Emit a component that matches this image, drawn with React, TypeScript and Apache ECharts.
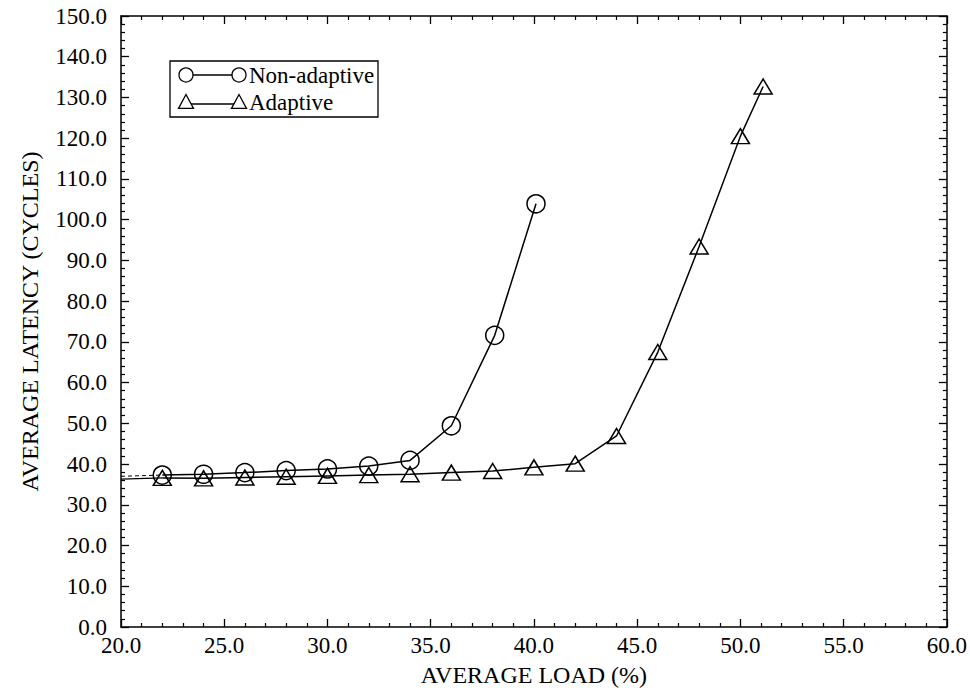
import React, { useEffect, useRef } from "react";
import * as echarts from "echarts";

// ---- data ----
const nonAdaptiveLoad = [22, 24, 26, 28, 30, 32, 34, 36, 38.1, 40.1];
const nonAdaptiveLatency = [37.3, 37.5, 37.9, 38.4, 38.8, 39.5, 40.9, 49.4, 71.6, 103.9];

const adaptiveLoad = [22, 24, 26, 28, 30, 32, 34, 36, 38, 40, 42, 44, 46, 48, 50, 51.1];
const adaptiveLatency = [36.6, 36.5, 36.7, 36.9, 37.1, 37.3, 37.5, 37.9, 38.3, 39.2, 40.1, 46.9, 67.5, 93.4, 120.5, 132.7];

// short lead-in segments from the y axis to the first points
const nonAdaptiveLeadLoad = [20, 22];
const nonAdaptiveLeadLatency = [37.0, 37.3];
const adaptiveLeadLoad = [20, 22];
const adaptiveLeadLatency = [36.3, 36.6];

const legendNames = ["Non-adaptive", "Adaptive"];
const xTitle = "AVERAGE LOAD (%)";
const yTitle = "AVERAGE LATENCY (CYCLES)";

const FONT = "'Liberation Serif', 'Times New Roman', serif";

const zip = (xs: number[], ys: number[]) => xs.map((x, i) => [x, ys[i]]);

export default function App() {
  const ref = useRef<HTMLDivElement>(null);
  useEffect(() => {
    if (!ref.current) return;
    const chart = echarts.init(ref.current, undefined, { renderer: "svg" });

    const axisCommon = {
      axisLine: { show: true, onZero: false, lineStyle: { color: "#000", width: 1.5 } },
      axisTick: { show: true, inside: true, length: 8, lineStyle: { color: "#000", width: 1.3 } },
      minorTick: { show: true, splitNumber: 5, length: 4, lineStyle: { color: "#000", width: 1.2 } },
      splitLine: { show: false },
    };

    const markerStyle = { color: "rgba(0,0,0,0)", borderColor: "#000", borderWidth: 1.5 };

    const tri = (cx: number, cy: number, s: number) => [
      [cx, cy - s],
      [cx - s, cy + s * 0.85],
      [cx + s, cy + s * 0.85],
    ];

    const lx = 170, ly = 61, lw = 208, lh = 56;
    const s1x = 186, s2x = 239, r1y = 75, r2y = 102, tx = 249;

    chart.setOption({
      animation: false,
      backgroundColor: "#fff",
      textStyle: { fontFamily: FONT, color: "#000" },
      grid: { left: 121, right: 17, top: 16, bottom: 62, containLabel: false },
      xAxis: [
        {
          type: "value",
          min: 20,
          max: 60,
          interval: 5,
          position: "bottom",
          ...axisCommon,
          axisLabel: {
            show: true,
            color: "#000",
            fontFamily: FONT,
            fontSize: 23,
            margin: 7,
            formatter: (v: number) => v.toFixed(1),
          },
          name: xTitle,
          nameLocation: "middle",
          nameGap: 36,
          nameTextStyle: { color: "#000", fontFamily: FONT, fontSize: 24 },
        },
        {
          type: "value",
          min: 20,
          max: 60,
          interval: 5,
          position: "top",
          ...axisCommon,
          axisLabel: { show: false },
        },
      ],
      yAxis: [
        {
          type: "value",
          min: 0,
          max: 150,
          interval: 10,
          position: "left",
          ...axisCommon,
          axisLabel: {
            show: true,
            color: "#000",
            fontFamily: FONT,
            fontSize: 23,
            margin: 14,
            formatter: (v: number) => v.toFixed(1),
          },
          name: yTitle,
          nameLocation: "middle",
          nameGap: 79,
          nameTextStyle: { color: "#000", fontFamily: FONT, fontSize: 24 },
        },
        {
          type: "value",
          min: 0,
          max: 150,
          interval: 10,
          position: "right",
          ...axisCommon,
          axisLabel: { show: false },
        },
      ],
      series: [
        {
          name: "nonAdaptiveLead",
          type: "line",
          data: zip(nonAdaptiveLeadLoad, nonAdaptiveLeadLatency),
          showSymbol: false,
          symbol: "none",
          lineStyle: { color: "#000", width: 1, type: [4, 3] },
          z: 1,
        },
        {
          name: "adaptiveLead",
          type: "line",
          data: zip(adaptiveLeadLoad, adaptiveLeadLatency),
          showSymbol: false,
          symbol: "none",
          lineStyle: { color: "#000", width: 1.3 },
          z: 1,
        },
        {
          name: legendNames[0],
          type: "line",
          data: zip(nonAdaptiveLoad, nonAdaptiveLatency),
          symbol: "circle",
          symbolSize: 18,
          itemStyle: markerStyle,
          lineStyle: { color: "#000", width: 1.5 },
          z: 3,
        },
        {
          name: legendNames[1],
          type: "line",
          data: zip(adaptiveLoad, adaptiveLatency),
          symbol: "triangle",
          symbolSize: [18, 15],
          itemStyle: markerStyle,
          lineStyle: { color: "#000", width: 1.5 },
          z: 3,
        },
      ],
      graphic: [
        {
          type: "group",
          children: [
            {
              type: "rect",
              shape: { x: lx, y: ly, width: lw, height: lh },
              style: { fill: "#fff", stroke: "#000", lineWidth: 1.3 },
            },
            {
              type: "line",
              shape: { x1: s1x, y1: r1y, x2: s2x, y2: r1y },
              style: { stroke: "#000", lineWidth: 1.3 },
            },
            { type: "circle", shape: { cx: s1x, cy: r1y, r: 7 }, style: { fill: "#fff", stroke: "#000", lineWidth: 1.3 } },
            { type: "circle", shape: { cx: s2x, cy: r1y, r: 7 }, style: { fill: "#fff", stroke: "#000", lineWidth: 1.3 } },
            {
              type: "text",
              x: tx,
              y: r1y,
              style: { text: legendNames[0], font: `23px ${FONT}`, fill: "#000", verticalAlign: "middle", align: "left" },
            },
            {
              type: "line",
              shape: { x1: s1x, y1: r2y + 2, x2: s2x, y2: r2y + 2 },
              style: { stroke: "#000", lineWidth: 1.3 },
            },
            { type: "polygon", shape: { points: tri(s1x, r2y, 7.5) }, style: { fill: "#fff", stroke: "#000", lineWidth: 1.3 } },
            { type: "polygon", shape: { points: tri(s2x, r2y, 7.5) }, style: { fill: "#fff", stroke: "#000", lineWidth: 1.3 } },
            {
              type: "text",
              x: tx,
              y: r2y,
              style: { text: legendNames[1], font: `23px ${FONT}`, fill: "#000", verticalAlign: "middle", align: "left" },
            },
          ],
        },
      ],
    });

    return () => chart.dispose();
  }, []);

  return (
    <div
      ref={ref}
      style={{ position: "fixed", left: 0, top: 0, width: 970, height: 692, background: "#fff" }}
    />
  );
}
